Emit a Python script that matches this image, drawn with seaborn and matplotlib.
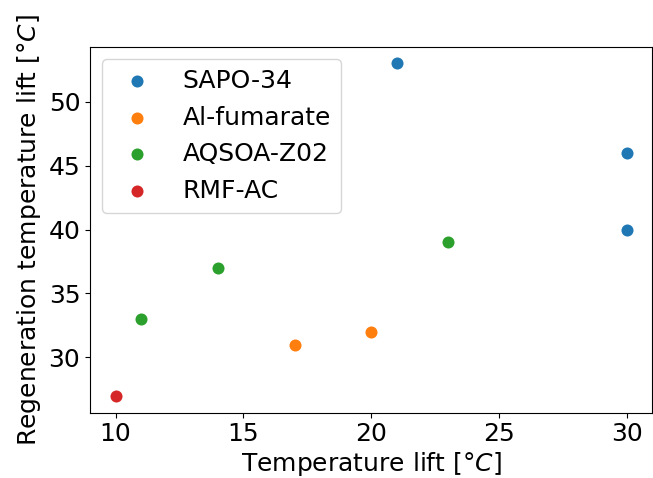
import matplotlib
matplotlib.use("Agg")
import matplotlib.pyplot as plt
import seaborn as sns
import pandas as pd

# Temperature lift vs. regeneration temperature lift per adsorbent
materials = ["SAPO-34", "Al-fumarate", "AQSOA-Z02", "RMF-AC"]
sapo_lift = [21, 30, 30]
sapo_regen = [53, 46, 40]
alfum_lift = [17, 20]
alfum_regen = [31, 32]
aqsoa_lift = [11, 14, 23]
aqsoa_regen = [33, 37, 39]
rmf_lift = [10]
rmf_regen = [27]

lifts = [sapo_lift, alfum_lift, aqsoa_lift, rmf_lift]
regens = [sapo_regen, alfum_regen, aqsoa_regen, rmf_regen]

df = pd.concat(
    [pd.DataFrame({"lift": l, "regen": r, "material": m})
     for m, l, r in zip(materials, lifts, regens)],
    ignore_index=True,
)

palette = sns.color_palette("tab10", len(materials))

fig = plt.figure(figsize=(6.53, 4.78), dpi=100)
ax = fig.add_axes([0.1378, 0.137, 0.8614, 0.7657])

for i, m in enumerate(materials):
    sub = df[df["material"] == m]
    sns.scatterplot(data=sub, x="lift", y="regen", color=palette[i],
                    s=75, linewidth=0, label=m, ax=ax, legend=False)

ax.set_xlim(9, 31)
ax.set_ylim(25.7, 54.3)
ax.set_xticks([10, 15, 20, 25, 30])
ax.set_yticks([30, 35, 40, 45, 50])
ax.tick_params(labelsize=18)
ax.set_xlabel("Temperature lift [$°C$]", fontsize=18, labelpad=2.5)
ax.set_ylabel("Regeneration temperature lift [$°C$]", fontsize=18)

handles = ax.collections
ax.legend(handles, materials, loc="upper left", fontsize=18, scatterpoints=1)

fig.savefig("out.png", dpi=100)
